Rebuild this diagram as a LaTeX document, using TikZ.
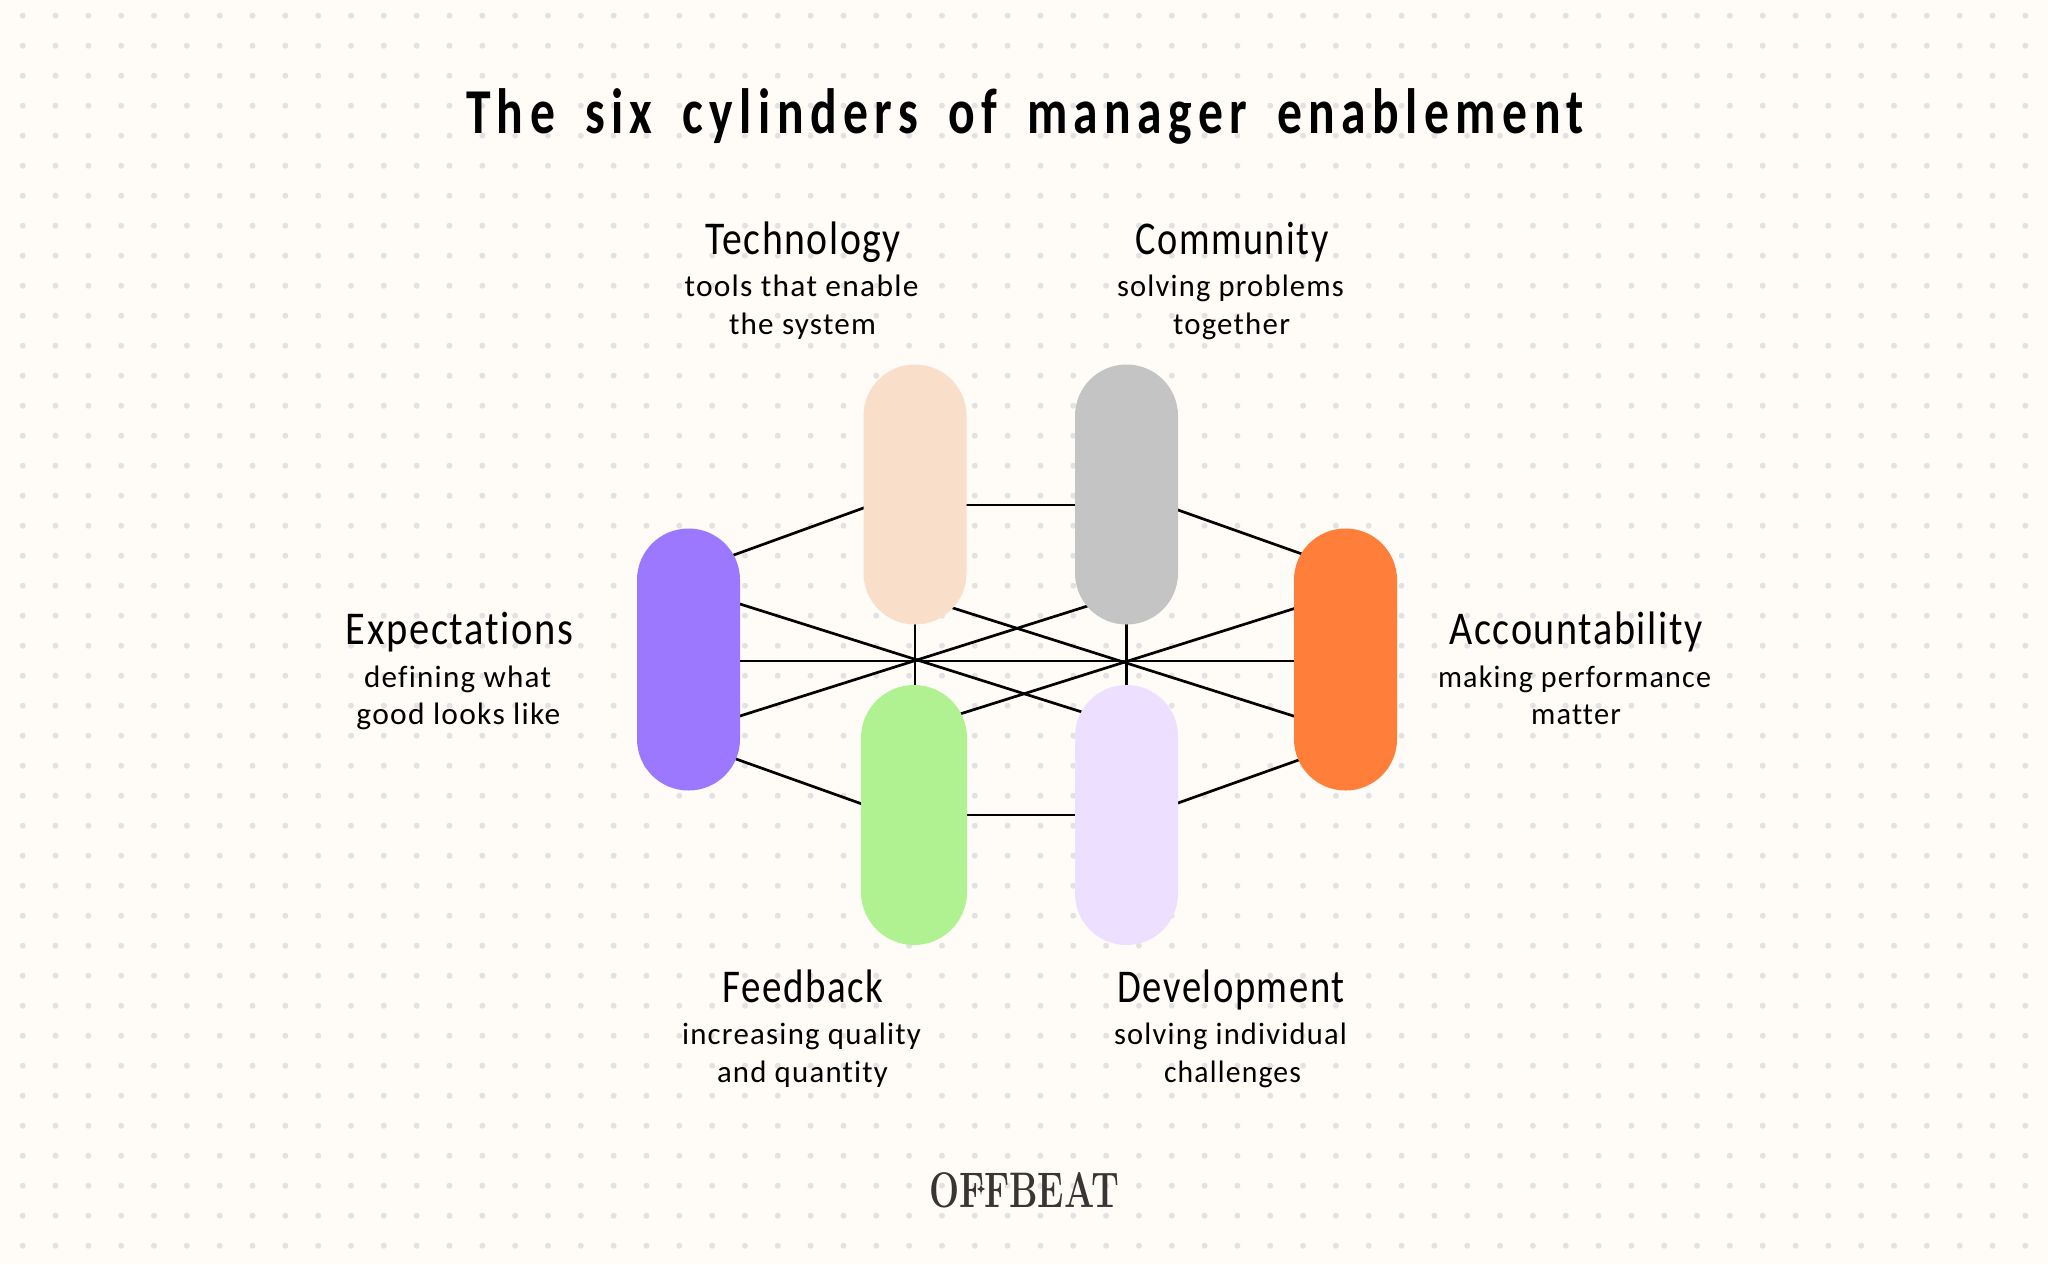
\documentclass[tikz,border=0pt]{standalone}
\usepackage{fontspec}
\usepackage{graphicx}
\newfontfamily\hwfont[LetterSpace=4,Ligatures=NoCommon]{Carlito}
\newfontfamily\ttlfont[LetterSpace=13,WordSpace=1.7,Ligatures=NoCommon,BoldFont={Carlito Bold}]{Carlito}
\definecolor{paper}{HTML}{FFFCF8}
\definecolor{dotc}{HTML}{E2E2E2}
\definecolor{cpurple}{HTML}{9B78FF}
\definecolor{cpeach}{HTML}{F9DEC9}
\definecolor{cgray}{HTML}{C4C4C4}
\definecolor{corange}{HTML}{FF7F3A}
\definecolor{cgreen}{HTML}{B0F292}
\definecolor{clav}{HTML}{ECDFFF}
\definecolor{logoc}{HTML}{383634}
\pgfdeclarelayer{dots}
\pgfdeclarelayer{links}
\pgfsetlayers{dots,links,main}
\newcommand{\fitw}[2]{\resizebox{#1pt}{\height}{#2}}
\tikzset{
  pill/.style={inner sep=0pt,minimum width=103pt,minimum height=260pt,rounded corners=51.4pt},
  link/.style={draw=black,line width=2.7pt},
  head/.style={anchor=base,inner sep=0pt,font=\hwfont\fontsize{47}{47}\selectfont},
  sub/.style={anchor=base,inner sep=0pt,font=\hwfont\fontsize{31}{31}\selectfont},
  ttl/.style={anchor=base,inner sep=0pt,font=\ttlfont\bfseries\fontsize{64}{64}\selectfont},
  logo/.style={anchor=base,inner sep=0pt,text=logoc,font=\rmfamily\bfseries\fontsize{50}{50}\selectfont},
}
\begin{document}
\begin{tikzpicture}[x=1pt,y=-1pt]
\useasboundingbox (0,0) rectangle (2048,1264);
\begin{pgfonlayer}{dots}
\fill[paper] (0,0) rectangle (2048,1264);
\foreach \i in {0,...,61}{\foreach \j in {0,...,41}{
  \fill[dotc] ({22.7+32.83*\i},{15.7+30*\j}) circle (3pt);
}}
\end{pgfonlayer}

\node[pill,fill=cpurple,minimum height=262pt] (purple) at (688.5,659.5) {};
\node[pill,fill=cpeach] (peach) at (915,494.5) {};
\node[pill,fill=cgray] (gray) at (1126.5,494.5) {};
\node[pill,fill=corange,minimum height=262pt] (orange) at (1345.5,659.5) {};
\node[pill,fill=cgreen,minimum width=106pt,rounded corners=53pt] (green) at (914,815) {};
\node[pill,fill=clav] (lav) at (1126.5,815) {};

\begin{pgfonlayer}{links}
\draw[link] ([shift={(31.5,-99.5)}]purple.center) -- ([shift={(-35,7.5)}]peach.center);
\draw[link] ([shift={(0,10.5)}]peach.center) -- ([shift={(0,10.5)}]gray.center);
\draw[link] ([shift={(33.5,9.1)}]gray.center) -- ([shift={(-25.5,-99.1)}]orange.center);
\draw[link] ([shift={(33.5,-5.6)}]lav.center) -- ([shift={(-25.5,92.9)}]orange.center);
\draw[link] (green.center) -- (lav.center);
\draw[link] ([shift={(21.5,90.2)}]purple.center) -- ([shift={(-34,-4.6)}]green.center);
\draw[link] ([shift={(0,1.5)}]purple.center) -- ([shift={(0,1.5)}]orange.center);
\draw[link] ([shift={(31.5,-61.8)}]purple.center) -- ([shift={(-26.5,-97.3)}]lav.center);
\draw[link] ([shift={(15,106.2)}]peach.center) -- ([shift={(-25.5,64.9)}]orange.center);
\draw[link] ([shift={(31.5,62.8)}]purple.center) -- ([shift={(-16.5,104.4)}]gray.center);
\draw[link] ([shift={(26,-94.7)}]green.center) -- ([shift={(-25.5,-59.1)}]orange.center);
\draw[link] (peach.center) -- (peach.center |- green.center);
\draw[link] (gray.center) -- (lav.center);
\end{pgfonlayer}

\node[ttl] (title) at (1025,133) {\fitw{1118}{The six cylinders of manager enablement}};

\node[head] (h1) at (803,254.5) {\fitw{196}{Technology}};
\node[sub] (s1a) at (801.5,296.5) {\fitw{234}{tools that enable}};
\node[sub] (s1b) at (802.5,334) {\fitw{147}{the system}};

\node[head] (h2) at (1232,254.5) {\fitw{193}{Community}};
\node[sub] (s2a) at (1230.5,296.5) {\fitw{227}{solving problems}};
\node[sub] (s2b) at (1231.5,334) {\fitw{117}{together}};

\node[head] (h3) at (459.5,644.5) {\fitw{227}{Expectations}};
\node[sub] (s3a) at (457.5,687) {\fitw{187}{defining what}};
\node[sub] (s3b) at (458.5,724) {\fitw{204}{good looks like}};

\node[head] (h4) at (1576,644.5) {\fitw{253}{Accountability}};
\node[sub] (s4a) at (1574.5,687) {\fitw{273}{making performance}};
\node[sub] (s4b) at (1576,724) {\fitw{90}{matter}};

\node[head] (h5) at (803,1002.5) {\fitw{161}{Feedback}};
\node[sub] (s5a) at (801.5,1044.5) {\fitw{239}{increasing quality}};
\node[sub] (s5b) at (802.5,1082) {\fitw{171}{and quantity}};

\node[head] (h6) at (1231,1002.5) {\fitw{227}{Development}};
\node[sub] (s6a) at (1230.5,1044.5) {\fitw{233}{solving individual}};
\node[sub] (s6b) at (1232.5,1082) {\fitw{137}{challenges}};

\node[logo] (offbeat) at (1024,1207) {\fitw{190}{OFFBEAT}};
\fill[logoc] (981,1183) .. controls (981.6,1187.5) and (982,1188.4) .. (985,1189)
  .. controls (982,1189.6) and (981.6,1190.5) .. (981,1195)
  .. controls (980.4,1190.5) and (980,1189.6) .. (977,1189)
  .. controls (980,1188.4) and (980.4,1187.5) .. (981,1183) -- cycle;
\end{tikzpicture}
\end{document}
